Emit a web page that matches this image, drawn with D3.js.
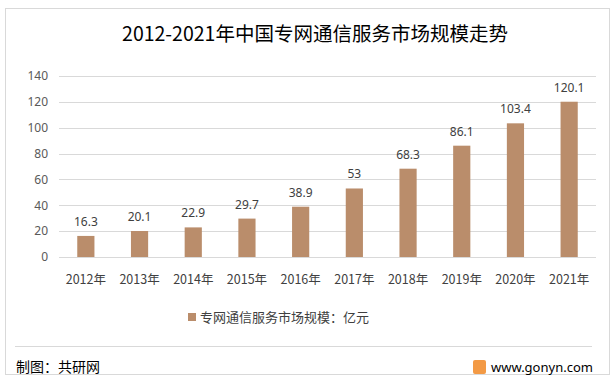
<!DOCTYPE html>
<html>
<head>
<meta charset="utf-8">
<script src="https://cdn.jsdelivr.net/npm/d3@7"></script>
<style>
  body { margin: 0; background: #fff; }
  text { font-family: "Noto Sans CJK SC", "Noto Sans", sans-serif; }
</style>
</head>
<body>
<div id="chart-area"></div>
<script>
// Data
let years = ["2012年", "2013年", "2014年", "2015年", "2016年", "2017年", "2018年", "2019年", "2020年", "2021年"];
let values = [16.3, 20.1, 22.9, 29.7, 38.9, 53, 68.3, 86.1, 103.4, 120.1];
let yTicks = [0, 20, 40, 60, 80, 100, 120, 140];

let W = 615, H = 377;
let margin = {top: 76, right: 19, bottom: 120, left: 59};
let width = W - margin.left - margin.right;
let height = 257 - margin.top;

let root = d3.select("#chart-area").append("svg")
    .attr("width", W)
    .attr("height", H);

// Outer frame
root.append("rect")
    .attr("x", 5.5).attr("y", 8.5)
    .attr("width", 604).attr("height", 366)
    .attr("fill", "#fff")
    .attr("stroke", "#d9d9d9");

// Title
root.append("text")
    .attr("x", 315)
    .attr("y", 41)
    .attr("text-anchor", "middle")
    .attr("fill", "#000")
    .style("font-size", "19.5px")
    .text("2012-2021年中国专网通信服务市场规模走势");

let svg = root.append("g")
    .attr("transform", "translate(" + margin.left + "," + margin.top + ")");

let xScale = d3.scaleBand()
    .domain(years)
    .range([0, width])
    .paddingInner(0.68)
    .paddingOuter(0.34);

let yScale = d3.scaleLinear()
    .domain([0, 140])
    .range([height, 0]);

// Grid lines
svg.append("g")
    .selectAll("line")
    .data(yTicks)
    .enter()
    .append("line")
    .attr("x1", 0)
    .attr("x2", width)
    .attr("y1", d => Math.round(yScale(d)) + 0.5)
    .attr("y2", d => Math.round(yScale(d)) + 0.5)
    .attr("stroke", "#d9d9d9");

// Y axis
let yAxis = d3.axisLeft(yScale).tickValues(yTicks).tickSize(0).tickPadding(11);
svg.append("g")
    .attr("class", "y-axis")
    .call(yAxis)
    .call(g => g.select(".domain").remove())
    .selectAll("text")
    .attr("fill", "#595959")
    .style("font-size", "12px")
    .style("font-family", "'Noto Sans', sans-serif");

// X axis
let xAxis = d3.axisBottom(xScale).tickSize(0).tickPadding(18);
svg.append("g")
    .attr("class", "x-axis")
    .attr("transform", "translate(0," + height + ")")
    .call(xAxis)
    .call(g => g.select(".domain").remove())
    .selectAll("text")
    .attr("fill", "#404040")
    .style("font-size", "12.5px");

// Bars
svg.selectAll(".bar")
    .data(values)
    .enter()
    .append("rect")
    .attr("class", "bar")
    .attr("x", (d, i) => xScale(years[i]))
    .attr("y", d => yScale(d))
    .attr("width", xScale.bandwidth())
    .attr("height", d => height - yScale(d))
    .attr("fill", "#BA8D6B");

// Data labels
svg.selectAll(".label")
    .data(values)
    .enter()
    .append("text")
    .attr("class", "label")
    .attr("x", (d, i) => xScale(years[i]) + xScale.bandwidth() / 2)
    .attr("y", d => yScale(d) - 10)
    .attr("text-anchor", "middle")
    .attr("fill", "#404040")
    .style("font-size", "12px")
    .style("font-family", "'Noto Sans', sans-serif")
    .text(d => d);

// Legend
let legend = root.append("g").attr("transform", "translate(188,317)");
legend.append("rect")
    .attr("x", 0).attr("y", -4)
    .attr("width", 8).attr("height", 8)
    .attr("fill", "#BA8D6B");
legend.append("text")
    .attr("x", 12)
    .attr("y", 0)
    .attr("dy", "0.35em")
    .attr("fill", "#404040")
    .style("font-size", "13px")
    .text("专网通信服务市场规模：亿元");

// Footer
root.append("line")
    .attr("x1", 15).attr("x2", 592)
    .attr("y1", 346.5).attr("y2", 346.5)
    .attr("stroke", "#d9d9d9");

root.append("text")
    .attr("x", 16)
    .attr("y", 367)
    .attr("dy", "0.35em")
    .attr("fill", "#000")
    .style("font-size", "14px")
    .text("制图：共研网");

root.append("rect")
    .attr("x", 473).attr("y", 360)
    .attr("width", 13).attr("height", 14)
    .attr("rx", 2)
    .attr("fill", "#f39a45");

root.append("text")
    .attr("x", 491)
    .attr("y", 367)
    .attr("dy", "0.35em")
    .attr("fill", "#000")
    .style("font-size", "13px")
    .style("font-family", "'Noto Sans', sans-serif")
    .text("www.gonyn.com");
</script>
</body>
</html>
